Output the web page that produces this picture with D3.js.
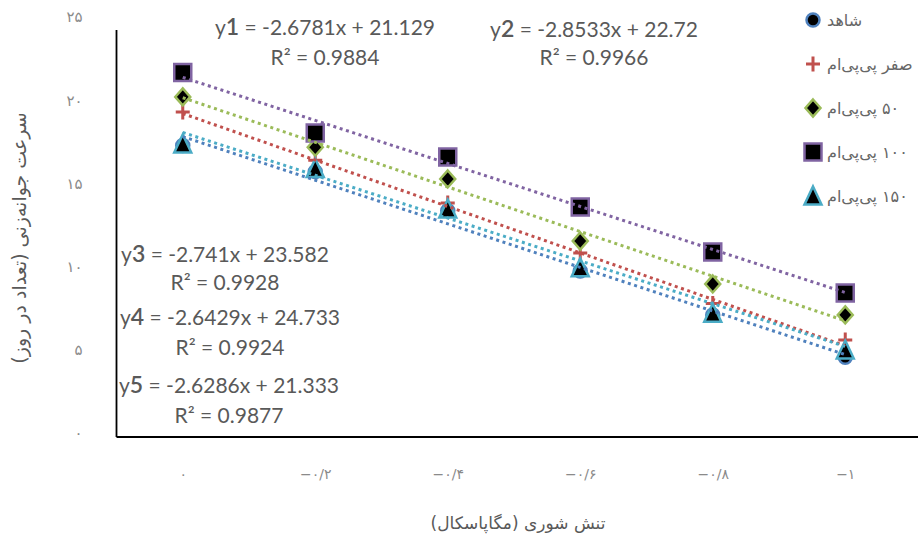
<!DOCTYPE html>
<html>
<head>
<meta charset="utf-8">
<script src="https://cdn.jsdelivr.net/npm/d3@7"></script>
<style>
  body { margin: 0; background: #fff; }
  svg { display: block; }
</style>
</head>
<body>
<svg id="chart" width="918" height="536"></svg>
<script>
// Salinity stress levels (MPa) on the category axis
const categories = ["۰", "−۰/۲", "−۰/۴", "−۰/۶", "−۰/۸", "−۱"];
const yTicks = [0, 5, 10, 15, 20, 25];
const seriesNames = ["شاهد", "صفر پی‌پی‌ام", "۵۰ پی‌پی‌ام", "۱۰۰ پی‌پی‌ام", "۱۵۰ پی‌پی‌ام"];

// Germination rate (count per day) for each treatment
const control = [17.9, 16.3, 13.9, 10.2, 7.5, 4.9];
const ppm0    = [19.96, 17.0, 14.37, 11.3, 8.2, 5.96];
const ppm50   = [20.89, 17.8, 15.85, 12.04, 9.4, 7.5];
const ppm100  = [22.39, 18.67, 17.2, 14.13, 11.36, 8.85];
const ppm150  = [18.0, 16.5, 14.0, 10.4, 7.6, 5.34];

// Linear trendlines y = slope * x + intercept (x = category index 1..6)
const slopes     = [-2.6781, -2.8533, -2.741, -2.6429, -2.6286];
const intercepts = [21.129, 22.72, 23.582, 24.733, 21.333];
const rSquared   = ["0.9884", "0.9966", "0.9928", "0.9924", "0.9877"];

const values = [control, ppm0, ppm50, ppm100, ppm150];
const colors = ["#4F81BD", "#C0504D", "#9BBB59", "#8064A2", "#4BACC6"];
const shapes = ["circle", "plus", "diamond", "square", "triangle"];

const svg = d3.select("#chart");
const plot = { left: 116.5, right: 911.5, top: 30, bottom: 437 };

const x = d3.scalePoint().domain(categories).range([plot.left, plot.right]).padding(0.5);
const y = d3.scaleLinear().domain([0, 25]).range([plot.bottom, plot.top]);
// value labels on the left are spread slightly wider than the plot area
const yLabelScale = d3.scaleLinear().domain([0, 25]).range([433, 17]);

const faDigits = "۰۱۲۳۴۵۶۷۸۹";
const toFa = v => String(v).replace(/[0-9]/g, d => faDigits[+d]);

const persianFont = "DejaVu Sans";
const latinFont = "Lato, 'Open Sans', sans-serif";

// ---- axes ----
svg.append("g")
  .attr("transform", `translate(${plot.left},0)`)
  .call(d3.axisLeft(yLabelScale).tickValues(yTicks).tickFormat(toFa).tickSize(0).tickPadding(34))
  .call(g => g.select(".domain").remove())
  .selectAll("text")
  .attr("font-family", persianFont)
  .attr("font-size", 15)
  .attr("fill", "#8a8a8a");

svg.append("g")
  .attr("transform", `translate(0,${plot.bottom})`)
  .call(d3.axisBottom(x).tickSize(0).tickPadding(32))
  .call(g => g.select(".domain").remove())
  .selectAll("text")
  .attr("font-family", persianFont)
  .attr("font-size", 14)
  .attr("fill", "#8a8a8a");

// plot frame: left and bottom edges
svg.append("line")
  .attr("x1", plot.left).attr("x2", plot.left)
  .attr("y1", y(25)).attr("y2", y(0))
  .attr("stroke", "#000").attr("stroke-width", 1.8);
svg.append("line")
  .attr("x1", plot.left).attr("x2", 918)
  .attr("y1", y(0)).attr("y2", y(0))
  .attr("stroke", "#000").attr("stroke-width", 1.8);

// ---- markers ----
function markerPath(shape) {
  const p = d3.path();
  if (shape === "circle") {
    p.arc(0, 0, 6.5, 0, 2 * Math.PI);
  } else if (shape === "plus") {
    p.moveTo(-7, 0); p.lineTo(7, 0);
    p.moveTo(0, -7.5); p.lineTo(0, 7.5);
  } else if (shape === "diamond") {
    p.moveTo(0, -8.5); p.lineTo(7.5, 0); p.lineTo(0, 8.5); p.lineTo(-7.5, 0); p.closePath();
  } else if (shape === "square") {
    p.rect(-8.5, -8.5, 17, 17);
  } else if (shape === "triangle") {
    p.moveTo(0, -9.5); p.lineTo(8.5, 8.5); p.lineTo(-8.5, 8.5); p.closePath();
  }
  return p.toString();
}

function styleMarker(sel, i) {
  if (shapes[i] === "plus") {
    sel.attr("fill", "none").attr("stroke", colors[i]).attr("stroke-width", 3);
  } else {
    sel.attr("fill", "#000").attr("stroke", colors[i]).attr("stroke-width", 2.5)
       .attr("stroke-linejoin", "miter");
  }
}

values.forEach((vals, i) => {
  const g = svg.append("g").attr("class", "series");
  g.selectAll("path")
    .data(vals)
    .join("path")
    .attr("d", markerPath(shapes[i]))
    .attr("transform", (d, j) => `translate(${x(categories[j])},${y(d)})`)
    .call(styleMarker, i);
});

// ---- trendlines (drawn over the markers) ----
slopes.forEach((s, i) => {
  const b = intercepts[i];
  const gen = d3.line()
    .x(j => x(categories[j]))
    .y(j => y(b + s * (j + 1)));
  svg.append("path")
    .attr("d", gen(d3.range(categories.length)))
    .attr("fill", "none")
    .attr("stroke", colors[i])
    .attr("stroke-width", 3)
    .attr("stroke-dasharray", "3,3.6");
});

// ---- equation labels ----
const eqPos = [
  { cx: 325, y1: 35, y2: 65 },
  { cx: 594, y1: 37, y2: 65 },
  { cx: 225, y1: 262, y2: 290 },
  { cx: 230, y1: 325, y2: 355 },
  { cx: 229, y1: 393, y2: 423 }
];

slopes.forEach((s, i) => {
  const p = eqPos[i];
  const t = svg.append("text")
    .attr("x", p.cx).attr("y", p.y1)
    .attr("text-anchor", "middle")
    .attr("font-family", latinFont)
    .attr("font-size", 21)
    .attr("fill", "#595959");
  t.append("tspan").text("y");
  t.append("tspan").attr("font-size", 23).attr("font-weight", 600).text(i + 1);
  t.append("tspan").text(` = ${s}x + ${intercepts[i]}`);

  svg.append("text")
    .attr("x", p.cx).attr("y", p.y2)
    .attr("text-anchor", "middle")
    .attr("font-family", latinFont)
    .attr("font-size", 21)
    .attr("fill", "#595959")
    .text(`R² = ${rSquared[i]}`);
});

// ---- legend ----
seriesNames.forEach((name, i) => {
  const cy = 20 + i * 44;
  svg.append("path")
    .attr("d", markerPath(shapes[i]))
    .attr("transform", `translate(813,${cy})`)
    .call(styleMarker, i);
  svg.append("text")
    .attr("x", 827).attr("y", cy + 6)
    .attr("direction", "rtl")
    .attr("text-anchor", "end")
    .attr("font-family", persianFont)
    .attr("font-size", 16)
    .attr("fill", "#666")
    .text(name);
});

// ---- axis titles ----
svg.append("text")
  .attr("x", 518).attr("y", 529)
  .attr("direction", "rtl")
  .attr("text-anchor", "middle")
  .attr("font-family", persianFont)
  .attr("font-size", 17)
  .attr("fill", "#595959")
  .text("تنش شوری (مگاپاسکال)");

svg.append("text")
  .attr("transform", "translate(26,238) rotate(-90)")
  .attr("direction", "rtl")
  .attr("text-anchor", "middle")
  .attr("font-family", persianFont)
  .attr("font-size", 19)
  .attr("fill", "#595959")
  .text("سرعت جوانه‌زنی (تعداد در روز)");
</script>
</body>
</html>
